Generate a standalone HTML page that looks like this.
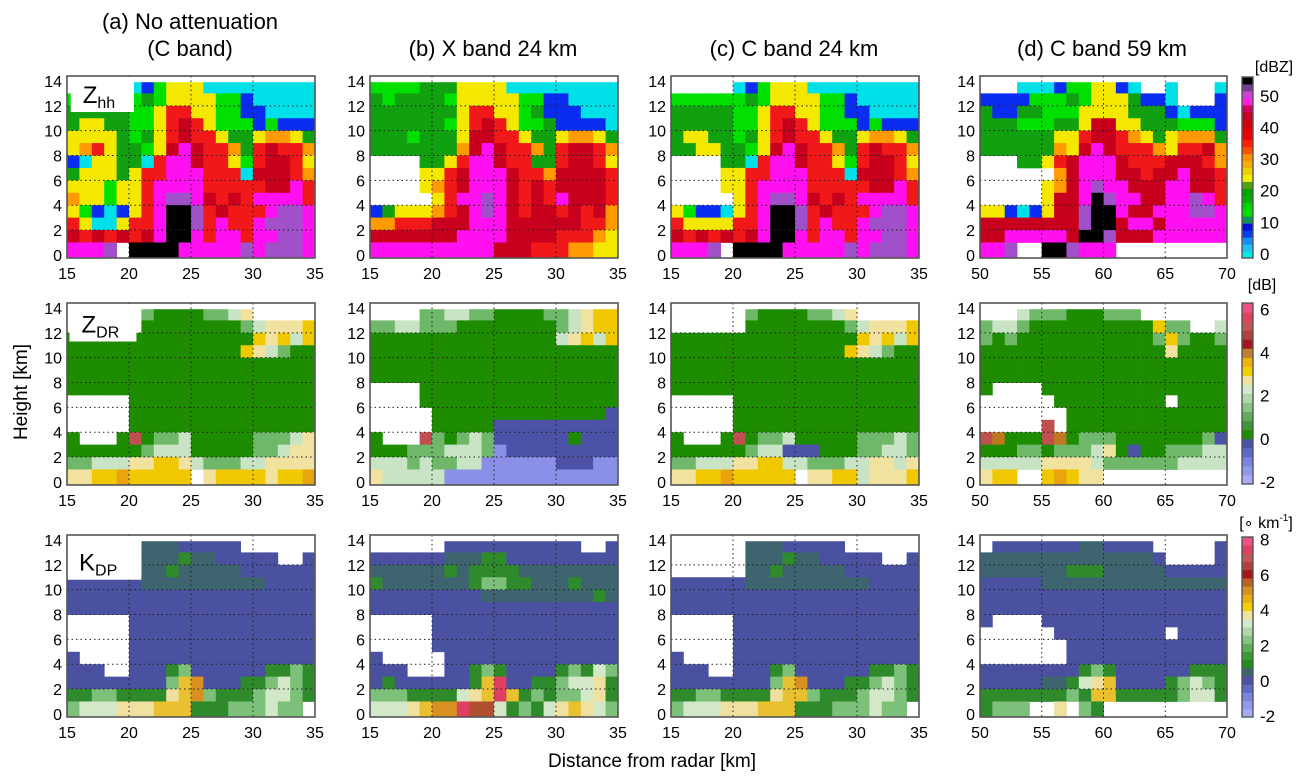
<!DOCTYPE html>
<html><head><meta charset="utf-8">
<style>
html,body{margin:0;padding:0;background:#fff;}
svg{display:block;font-family:"Liberation Sans",sans-serif;}
</style></head>
<body>
<svg id="fig" width="1303" height="783" viewBox="0 0 1303 783" xmlns="http://www.w3.org/2000/svg">
<g id="titles" fill="#000" font-size="22" text-anchor="middle">
<text x="190" y="29">(a) No attenuation</text>
<text x="190" y="56">(C band)</text>
<text x="493" y="56">(b) X band 24 km</text>
<text x="794" y="56">(c) C band 24 km</text>
<text x="1102" y="56">(d) C band 59 km</text>
</g>
<text x="0" y="0" transform="translate(27,392) rotate(-90)" font-size="19" text-anchor="middle">Height [km]</text>
<text x="652" y="767" font-size="19" text-anchor="middle">Distance from radar [km]</text>
<g id="panels"></g>
<g id="cbars"></g>
</svg>
<script>
// ---------- data ----------
const yTicks = [0,2,4,6,8,10,12,14];
const xTicksNear = [15,20,25,30,35];
const xTicksFar = [50,55,60,65,70];
const zhhTicks = [0,10,20,30,40,50];
const zdrTicks = [-2,0,2,4,6];
const kdpTicks = [-2,0,2,4,6,8];

// colour codes per variable
const zhhColors = {w:'#ffffff',c:'#00e0e8',b:'#0a2cf0',g:'#00e000',G:'#10a010',y:'#f5e800',o:'#ff9a00',r:'#f01818',R:'#c8001e',m:'#ff10f0',p:'#a050c8',k:'#000000'};
const zdrColors = {w:'#ffffff',G:'#1e8c00',l:'#6fb86a',q:'#c8e4c4',e:'#f2e2a0',y:'#f0c800',o:'#e8a40a',n:'#c07820',r:'#c05050',B:'#4c52a6',L:'#8a90e8'};
const kdpColors = {w:'#ffffff',B:'#4a51a0',T:'#3e6470',g:'#2e8a2a',l:'#7cc07a',q:'#d2e8c8',e:'#f0e0a0',y:'#e8c030',o:'#d89020',n:'#b05030',r:'#e04060',L:'#8a8ff0'};

// grids: rows from top (13-14 km) to bottom (0-1 km), 20 columns of 1 km
const zhhA = ["wwwwwcbgyyyccccccccc","ggggggGgyyyyggbccccc","GGGGGggyrryyggbbcccc","GyyGGggyrRrygggbgbbb","yyyyGgGyrRrryGGyooyG","yoryGGgyRmRrroGrRrro","bcyyGGcrmmRrrygrRRry","GyyyGyrrmmmrrrcRRRro","yyygyyrmmmmrrrrrRRmr","oyygyyrmppmRrRrmmmmr","ygbcbyrmkkprRrrrmppm","ryccyrrmkkprmrrmpppm","RrRrRrRmkkmrmmrmmppm","mmmpwkkkkmmmmmpmpppm"];
const zhhB = ["ggggGGGyyyyccccccccc","GgGGGGgyyyyyggbbcccc","GGGGGGGyrryygGbbbccc","GGGGGGgyrRryggGbbbbc","GGGgGGGyRRrryGGyooyG","GGGGGGGoRmRrroGrRRro","wwwwGGyrmmRrrGGrRRry","wwwwyyrRmmmRrroRRRRr","wwwwyorRmmmRrRrRRRRr","wwwwwyrmmpmRrRrmRRRr","bGyyyorRmpmRrRRrRrRo","oorrrRRRmmmRRRRRRrro","RRRRRRRmmmmRRRRrrroy","mmmmmmmmmmRRRrrrooyy"];
const zhhC = ["wwwwwcbgyyyccccccccc","ggggggGgyyyyggbccccc","GGGGGggyrryyggbbcccc","GGGGGggyrRrygggbgbbb","GyyGGgGyrRrryGGyooyG","GGyyGGgyRmRrroGrRrro","wwwwGGcrmmRrrygrRRry","wwwwyyrrmmmrrrcRRRro","wwwwyyrmmmmrrrrrRRmr","wwwwwyrmppmRrRrmmmmr","ygbbcyrmkkprRrrrmppm","ryyyyrrmkkprmrrmpppm","RrRrRrRmkkmrmmrmmppm","mmmpwkkkkmmmmmpmpppm"];
const zhhD = ["wwwcccbggyybcwwcwwwc","bbbbgggGgyyyGbbcwwwb","GbbGGgggyyyyGGGbcbbb","GGGgggGGyRRyyGGGgggb","GGGGGGyyrRRroyGyoooG","GGGGGGoyRmRrrroyrrRo","wwwGGyrRmmmRrrrRRRro","wwwwwwoRmmmRRrRRmRRr","wwwwwyoRmpmmRRRmmRRr","wwwwwyRRmkpmmRRmmpmr","yybcbyRRpkkmRRmmmppm","RRRRRRRRpkkRmmRmmmmm","RRmmmmmRkkpRRRmmmmmm","mmpwwkkpmmmwwwwwwwww"];

const zdrA = ["wwwwwwlGGGGllqewwwww","wwwwwwGGGGGGGGlqeeey","GGGGGGGGGGGGGGGyeyqy","GGGGGGGGGGGGGGyeqlGG","GGGGGGGGGGGGGGGGGGGG","GGGGGGGGGGGGGGGGGGGG","GGGGGGGGGGGGGGGGGGGG","wwwwwGGGGGGGGGGGGGGG","wwwwwGGGGGGGGGGGGGGG","wwwwwGGGGGGGGGGGGGGG","GwwwGrGllqGGGGGlllqe","GGGGGGlqqqGGGGGllqee","llqqqeeyyeqlllqqeeee","eeyyoyyyyyweyyyyeyyo"];
const zdrB = ["wwwwllqqllGGGGllqeyy","llqqlllGGGGGGGGlqeyy","GGGGGGGGGGGGGGGqeyqy","GGGGGGGGGGGGGGGGGGGG","GGGGGGGGGGGGGGGGGGGG","GGGGGGGGGGGGGGGGGGGG","wwwwGGGGGGGGGGGGGGGG","wwwwGGGGGGGGGGGGGGGG","wwwwwGGGGGGGGGGGGGGB","wwwwwGGGGGBBBBBBBBBB","GwwwrlGlqlBBBBBBGBBB","GGGlllqqqlLBBBBBBBBB","qqqlqllqqLLLLLLBBBLL","eqqqqqLLLLLLLLLLLLLL"];
const zdrC = ["wwwwwwlGGGGllqewwwww","wwwwwwGGGGGGGGlqeeey","GGGGGGGGGGGGGGGyeyqy","GGGGGGGGGGGGGGyeqlGG","GGGGGGGGGGGGGGGGGGGG","GGGGGGGGGGGGGGGGGGGG","GGGGGGGGGGGGGGGGGGGG","wwwwwGGGGGGGGGGGGGGG","wwwwwGGGGGGGGGGGGGGG","wwwwwGGGGGGGGGGGGGGG","GwwwGrGllqGGGGGlllql","GGGGGGlqqBBBGGGllqql","llqqqeeyyqqlllqqeeqe","eeyyoyyyyyweeyyqeeey"];
const zdrD = ["wwwqlllGGGlllwwwwwww","lqqlGGGGGGGGGGyllwwq","lGlGGGGGGGGGGGlylGGl","GGGGGGGGGGGGGGGeGGGG","GGGGGGGGGGGGGGGGGGGG","GGGGGGGGGGGGGGGGGGGG","GwwwwGGGGGGGGGGGGGGG","wwwwwwGGGGGGGGGwGGGG","wwwwwwwGGGGGGGGGGGGG","wwwwwrwGGGGGGGGGGGGG","rnGGGrnGlllGGGGGGGlB","GGGllGlllqeGBGGlllqq","qqqqqeeeeqllllllqqqq","eyywwyoyeewwwwwwwwww"];

const kdpA = ["wwwwwwTTTBBBBBwwwwww","wwwwwwTTTgTTBBBBBwwB","wwwwwwTTgTTTTTBBBBBB","BBBBBBTTTTTTTTTTBBBB","BBBBBBBBBBBBBBBBBBBB","BBBBBBBBBBBBBBBBBBBB","wwwwwBBBBBBBBBBBBBBB","wwwwwBBBBBBBBBBBBBBB","wwwwwBBBBBBBBBBBBBBB","BwwwwBBBBBBBBBBBBBBB","BBBwwBBBglBBBBBBgglg","BBBBBBBBlyoBBBgglqlg","ggllggggeyolggglqqlg","lqqqeeeyyyggglllqllw"];
const kdpB = ["wwwwwwBBBBBBBBBBBwwB","BBBBBBTTTggBBBBBBBBB","TTTTTTgTggggTTTTTTTT","gTTTTTTTgllggTTTgTTT","BBBBBBBBBTTTTTTTTTgT","BBBBBBBBBBBBBBBBBBBB","wwwwwBBBBBBBBBBBBBBB","wwwwwBBBBBBBBBBBBBBB","wwwwwBBBBBBBBBBBBBBB","BwwwwwBBBBBBBBBBBBBB","BBBwwwBBglgBBBBglgql","BgBBBBBBgyrBBgglqqeg","lllggggqeyryglgllqeg","qqqeyoornnqglgqeyeql"];
const kdpC = ["wwwwwwTTTBBBBBwwwwww","wwwwwwTTTgTTBBBBBwwB","wwwwwwTTgTTTTTBBBBBB","BBBBBBTTTTTTTTTTBBBB","BBBBBBBBBBBBBBBBBBBB","BBBBBBBBBBBBBBBBBBBB","wwwwwBBBBBBBBBBBBBBB","wwwwwBBBBBBBBBBBBBBB","wwwwwBBBBBBBBBBBBBBB","BwwwwBBBBBBBBBBBBBBB","BBBwwBBBglBBBBBBgglg","BBBBBBBBlyoBBBgglqlg","ggllggggeyylggglqqlg","lqqqeeeyyyggglllqllw"];
const kdpD = ["wBBBBBBBTTBBBBwwwwwB","TTTTTTTTTTTTTTBwwwwB","TTTTTTTgggTTTTTBBBBB","BBBBBTTTTTTTTTTTTTTT","BBBBBBBBBBBBBBBBBBBB","BBBBBBBBBBBBBBBBBBBB","BwwwwBBBBBBBBBBBBBBB","wwwwwwBBBBBBBBBwBBBB","wwwwwwwBBBBBBBBBBBBB","wwwwwwwBBBBBBBBBBBBB","BBBBBBBBglgBBBBBBggg","BBBBBTTgqeyBBBBglqlg","ggggggglgyyggggglqqg","glllwwewlgwwwwwwwwww"];

// ---------- layout ----------
const NS='http://www.w3.org/2000/svg';
const colLeft=[67,370,671,980], colW=[248,248,248,247];
const rowTop=[76,303,535], rowH=182;
const H0=-0.25, H1=14.4;
function mk(tag,attrs,parent){const e=document.createElementNS(NS,tag);for(const k in attrs)e.setAttribute(k,attrs[k]);if(parent)parent.appendChild(e);return e;}
const panelsG=document.getElementById('panels');
const grids=[[zhhA,zhhB,zhhC,zhhD],[zdrA,zdrB,zdrC,zdrD],[kdpA,kdpB,kdpC,kdpD]];
const cmaps=[zhhColors,zdrColors,kdpColors];
const varNames=['zhh','zdr','kdp'];
const panelLetters=['a','b','c','d'];

for(let r=0;r<3;r++){for(let c=0;c<4;c++){
  const L=colLeft[c],T=rowTop[r],W=colW[c];
  const x0=c===3?50:15;
  const xs=v=>L+(v-x0)/20*W;
  const ys=h=>T+rowH-(h-H0)/(H1-H0)*rowH;
  const g=mk('g',{},panelsG);
  
  
  const clipId='clip'+r+c;
  const cp=mk('clipPath',{id:clipId},g);mk('rect',{x:L,y:T,width:W,height:rowH},cp);
  const cells=mk('g',{'clip-path':'url(#'+clipId+')'},g);
  
  
  const grid=grids[r][c],cm=cmaps[r];
  for(let i=0;i<14;i++){const row=grid[i];const h=13-i;
    for(let j=0;j<20;j++){const ch=row[j]||'w';if(ch==='w')continue;
      const xa=xs(x0+j),xb=xs(x0+j+1);
      const yb=ys(h), ya=ys(h===13?14:h+1);
      const yTop=(h===13)?ys(13.9):ya;
      const yBot=(h===0)?ys(H0+0.05):yb;
      const rc=mk('rect',{x:xa.toFixed(2),y:yTop.toFixed(2),width:(xb-xa+0.4).toFixed(2),height:(yBot-yTop+0.4).toFixed(2),fill:cm[ch]||'#fff'},cells);
      
      
    }}
  // grid lines
  for(const t of [1,2,3].map(k=>x0+5*k)){const l=mk('line',{x1:xs(t),x2:xs(t),y1:T,y2:T+rowH,stroke:'#222','stroke-width':1,'stroke-dasharray':'1.5,3'},g);}
  for(const t of yTicks.slice(1,7)){const l=mk('line',{x1:L,x2:L+W,y1:ys(t),y2:ys(t),stroke:'#222','stroke-width':1,'stroke-dasharray':'1.5,3'},g);}
  // label box
  if(c===0){
    const boxes=[[15.3,20.4,11.5],[15.2,20.6,11.3],[15,21,10.8]];
    const b=boxes[r];
    const bx=mk('rect',{x:xs(b[0]),y:T+1,width:xs(b[1])-xs(b[0]),height:ys(b[2])-T-1,fill:'#fff'},g);
    
    const tx=mk('text',{x:xs(b[0])+12,y:ys(b[2])-9,'font-size':24},g);
    
    const main=['Z','Z','K'][r],sub=['hh','DR','DP'][r];
    tx.textContent=main;
    const ts=mk('tspan',{'font-size':16,dy:5},tx);ts.textContent=sub;
  }
  // frame
  const fr=mk('rect',{x:L,y:T,width:W,height:rowH,fill:'none',stroke:'#555','stroke-width':1.6},g);
  
  // ticks
  for(const t of yTicks){const tt=mk('text',{x:L-5,y:ys(t)+6,'font-size':16,'text-anchor':'end'},g);tt.textContent=t;}
  const xt=c===3?xTicksFar:xTicksNear;
  for(const t of xt){const tt=mk('text',{x:xs(t),y:T+rowH+21,'font-size':16,'text-anchor':'middle'},g);tt.textContent=t;}
}}

// ---------- colorbars ----------
const cbG=document.getElementById('cbars');
const zhhBar=['#00e8e8','#20c0f0','#1090f8','#0040f0','#0010e0','#109060','#00e000','#00d000','#00b000','#00a000','#50a010','#f0f000','#f0d000','#f0b000','#ff9000','#ff5000','#ff2000','#f00000','#e00000','#d00010','#c00020','#d00060','#ff20e0','#d040d0','#704090','#000000'];
const zdrBar=['#a8acf8','#9098f0','#7c82e0','#6068c8','#4c52a6','#1e8c00','#3a9a30','#5eae58','#88c484','#b0d8ac','#d4e8d0','#f2e2a0','#f0d000','#f0b010','#c08030','#a01818','#b04040','#c05858','#e04060','#f05080'];
const kdpBar=['#a8acf8','#9098f0','#7c82e0','#6068c8','#4c52a6','#3e6470','#1e8c20','#3a9a30','#5eae58','#88c484','#b0d8ac','#d4e8d0','#f2e2a0','#f0d000','#e8b010','#d89020','#c06020','#a01818','#b04040','#c05858','#e04060','#f05080'];
const bars=[
 {cols:zhhBar,ticks:zhhTicks,vmin:-1.3,vmax:56,top:77,bot:258,unit:'[dBZ]',ux:1274,uy:72,name:'zhh'},
 {cols:zdrBar,ticks:zdrTicks,vmin:-2.1,vmax:6.3,top:303,bot:484,unit:'[dB]',ux:1262,uy:290,name:'zdr'},
 {cols:kdpBar,ticks:kdpTicks,vmin:-2.05,vmax:8.15,top:537,bot:717,unit:'[\u2218 km',ux:1266,uy:528,name:'kdp'}];
bars.forEach(b=>{
  const g=mk('g',{},cbG);
  
  
  const x=1242,w=11,n=b.cols.length,hh=(b.bot-b.top)/n;
  b.cols.forEach((col,i)=>{const r=mk('rect',{x:x,y:b.bot-(i+1)*hh,width:w,height:hh+0.5,fill:col},g);});
  const f=mk('rect',{x:x,y:b.top,width:w,height:b.bot-b.top,fill:'none',stroke:'#555','stroke-width':1.4},g);
  
  const vs=v=>b.bot-(v-b.vmin)/(b.vmax-b.vmin)*(b.bot-b.top);
  b.ticks.forEach(t=>{const tt=mk('text',{x:1260,y:vs(t)+6,'font-size':17},g);tt.textContent=t;});
  const u=mk('text',{x:b.ux,y:b.uy,'font-size':16,'text-anchor':'middle'},g);
  
  u.textContent=b.unit;
  if(b.name==='kdp'){const s=mk('tspan',{'font-size':10,dy:-7},u);s.textContent='-1';const s2=mk('tspan',{dy:7},u);s2.textContent=']';}
});
</script>
</body></html>
